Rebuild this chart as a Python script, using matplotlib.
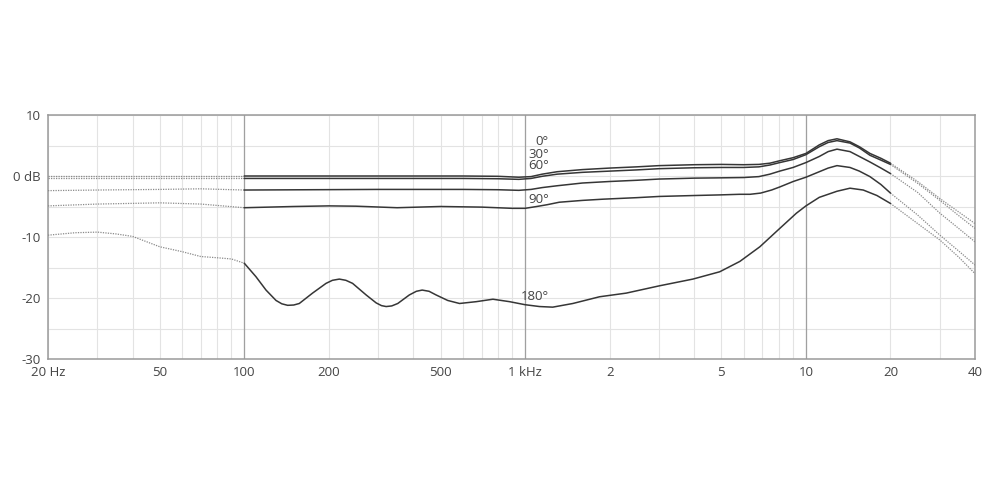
import numpy as np
import matplotlib
matplotlib.use("Agg")
import matplotlib.pyplot as plt
from matplotlib.ticker import LogLocator, NullFormatter, FixedLocator

# ---------------- data ----------------
angles = ["0°", "30°", "60°", "90°", "180°"]

# solid section (100 Hz .. 20 kHz) for 0/30/60 deg
f_main = [100, 300, 600, 800, 950, 1050, 1150, 1300, 1600, 2000, 2500, 3000,
          4000, 5000, 6000, 6800, 7440, 8066, 9000, 10000, 11157, 12000, 12900,
          14350, 15500, 16900, 18500, 20000]
db_0 = [0.0, 0.0, 0.0, -0.05, -0.2, -0.1, 0.3, 0.7, 1.05, 1.3, 1.5, 1.7,
        1.85, 1.9, 1.85, 1.9, 2.1, 2.5, 3.0, 3.7, 5.1, 5.8, 6.1,
        5.6, 4.8, 3.7, 2.9, 2.1]
db_30 = [-0.4, -0.4, -0.4, -0.45, -0.55, -0.4, -0.05, 0.3, 0.6, 0.8, 1.0, 1.2,
         1.35, 1.4, 1.4, 1.5, 1.8, 2.2, 2.7, 3.5, 4.8, 5.5, 5.8,
         5.4, 4.6, 3.4, 2.6, 1.9]
db_60 = [-2.3, -2.2, -2.2, -2.25, -2.35, -2.2, -1.9, -1.6, -1.15, -0.9, -0.7, -0.5,
         -0.35, -0.3, -0.25, -0.1, 0.3, 0.8, 1.4, 2.2, 3.2, 4.0, 4.4,
         4.0, 3.2, 2.3, 1.3, 0.4]
f_90 = [100, 150, 200, 250, 350, 500, 700, 900, 1000, 1100, 1200, 1323, 1600,
        1895, 2500, 3010, 4000, 4932, 5800, 6326, 6900, 7543, 8066, 9010, 10000,
        11157, 12000, 12900, 14350, 15500, 16900, 18500, 20000]
db_90 = [-5.2, -5.0, -4.9, -4.95, -5.2, -5.0, -5.1, -5.3, -5.3, -5.0, -4.7, -4.3, -4.0,
         -3.8, -3.55, -3.35, -3.2, -3.1, -3.0, -3.0, -2.8, -2.3, -1.8, -0.9, -0.2,
         0.7, 1.3, 1.7, 1.4, 0.8, -0.1, -1.4, -2.8]

f_180 = [100, 110, 119.5, 129.7, 136, 142.7, 150, 157, 175, 195.5, 206, 218, 230, 243,
         271.6, 294.8, 308, 320, 335, 352, 387, 410, 430, 455, 482, 530, 584, 670,
         768, 880, 1000, 1125, 1254, 1479, 1840, 2291, 3010, 3957, 4932, 5818,
         6855, 8066, 9247, 10000, 11157, 12900, 14350, 16000, 17900, 20000]
db_180 = [-14.3, -16.5, -18.7, -20.4, -20.95, -21.2, -21.15, -20.9, -19.2, -17.6, -17.1,
          -16.9, -17.1, -17.6, -19.5, -20.8, -21.25, -21.4, -21.3, -20.9, -19.5, -18.9,
          -18.7, -18.9, -19.5, -20.4, -20.9, -20.6, -20.2, -20.6, -21.1, -21.4, -21.5,
          -20.9, -19.8, -19.2, -18.0, -16.9, -15.7, -14.0, -11.6, -8.6, -6.1, -4.9,
          -3.5, -2.5, -2.0, -2.3, -3.2, -4.5]

# dotted extensions below 100 Hz
f_low = [20, 30, 50, 70, 100]
low_0 = [0.0, 0.0, 0.0, 0.0, 0.0]
low_30 = [-0.4, -0.4, -0.4, -0.4, -0.4]
low_60 = [-2.4, -2.3, -2.2, -2.1, -2.3]
low_90 = [-4.9, -4.6, -4.4, -4.6, -5.2]
f_low180 = [20, 25, 30, 35, 40, 50, 60, 70, 80, 90, 100]
low_180 = [-9.7, -9.3, -9.2, -9.5, -9.9, -11.6, -12.4, -13.2, -13.4, -13.6, -14.3]

# dotted extensions above 20 kHz
f_high = [20000, 25000, 30000, 35000, 40000]
high_0 = [2.1, -0.9, -3.7, -5.9, -7.8]
high_30 = [1.9, -1.2, -4.0, -6.5, -8.6]
high_60 = [0.4, -2.7, -6.1, -8.6, -10.8]
high_90 = [-2.8, -6.4, -9.7, -12.3, -14.6]
high_180 = [-4.5, -7.8, -10.5, -13.3, -16.0]

# label anchor values (dB) for each angle label
label_db = [5.7, 3.6, 1.8, -3.8, -19.8]

x_ticks = [20, 50, 100, 200, 500, 1000, 2000, 5000, 10000, 20000, 40000]
x_labels = ["20 Hz", "50", "100", "200", "500", "1 kHz", "2", "5", "10", "20", "40"]
y_ticks = [-30, -20, -10, 0, 10]
y_labels = ["-30", "-20", "-10", "0 dB", "10"]

# ---------------- plotting ----------------
plt.rcParams['font.family'] = ['Open Sans', 'DejaVu Sans']
fig = plt.figure(figsize=(10, 5), dpi=100)
ax = fig.add_axes([0.048, 0.282, 0.927, 0.488])
ax.set_xscale('log')
ax.set_xlim(20, 40000)
ax.set_ylim(-30, 10)
ax.set_axisbelow(True)

line_col = '#363636'
dot_col = '#8a8a8a'
solid_lw = 1.1
dot_lw = 0.9

solid = [(f_main, db_0), (f_main, db_30), (f_main, db_60), (f_90, db_90), (f_180, db_180)]
lows = [(f_low, low_0), (f_low, low_30), (f_low, low_60), (f_low, low_90), (f_low180, low_180)]
highs = [(f_high, high_0), (f_high, high_30), (f_high, high_60), (f_high, high_90), (f_high, high_180)]

for (fx, fy) in lows + highs:
    ax.plot(fx, fy, color=dot_col, lw=dot_lw, linestyle=(0, (1, 1)), zorder=3)
for (fx, fy) in solid:
    ax.plot(fx, fy, color=line_col, lw=solid_lw, zorder=4,
            solid_capstyle='round', solid_joinstyle='round')

# angle labels
for lab, yv in zip(angles, label_db):
    ax.text(1215, yv, lab, ha='right', va='center', fontsize=9.5, color='#444444', zorder=5)

# grid
ax.xaxis.set_minor_locator(LogLocator(base=10, subs=np.arange(1, 10)))
ax.xaxis.set_minor_formatter(NullFormatter())
ax.xaxis.remove_overlapping_locs = False
ax.set_xticks(x_ticks)
ax.set_xticklabels(x_labels)
ax.set_yticks(y_ticks)
ax.set_yticklabels(y_labels)
ax.yaxis.set_minor_locator(FixedLocator([-25, -15, -5, 5]))
ax.grid(which='minor', axis='x', color='#e3e3e3', lw=0.8)
ax.grid(which='both', axis='y', color='#e3e3e3', lw=0.8)
ax.grid(which='major', axis='x', visible=False)
for dec in [100, 1000, 10000]:
    ax.axvline(dec, color='#a0a0a0', lw=0.9, zorder=2, snap=True)

ax.tick_params(which='both', length=0)
ax.tick_params(axis='x', pad=5, labelsize=9.5, labelcolor='#444444')
ax.tick_params(axis='y', pad=5, labelsize=9.5, labelcolor='#444444')
for sp in ax.spines.values():
    sp.set_color('#9a9a9a')
    sp.set_linewidth(1.1)

fig.savefig('out.png', dpi=100, facecolor='white')
